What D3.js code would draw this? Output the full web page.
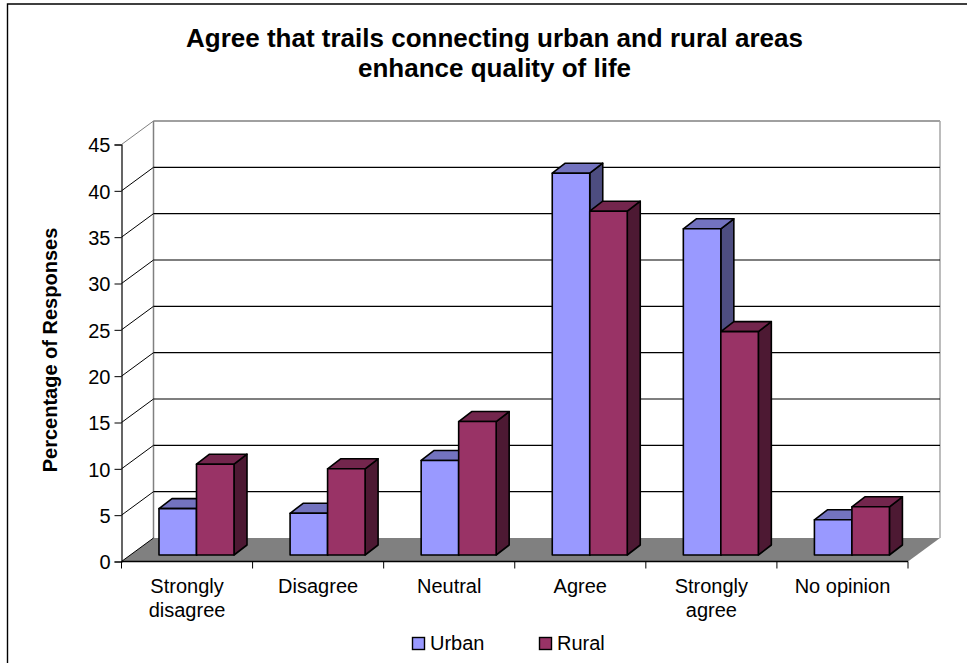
<!DOCTYPE html>
<html><head><meta charset="utf-8">
<script src="https://cdnjs.cloudflare.com/ajax/libs/d3/7.8.5/d3.min.js"></script>
<style>html,body{margin:0;padding:0;background:#fff}svg{display:block}text{font-family:"Liberation Sans",Arial,sans-serif;fill:#000}</style>
</head><body><svg id="c" width="967" height="663"></svg>
<script>
const categories=[["Strongly","disagree"],["Disagree"],["Neutral"],["Agree"],["Strongly","agree"],["No opinion"]];
const urban=[5,4.5,10.2,41.2,35.2,3.8];
const rural=[9.8,9.3,14.4,37.1,24.1,5.2];
const yTicks=[0,5,10,15,20,25,30,35,40,45];
const titleLines=["Agree that trails connecting urban and rural areas","enhance quality of life"];
const legendItems=["Urban","Rural"];
const svg=d3.select("#c");
const x0=121.5,x1=908,yB=561.5,yT=144.5,dx=32,dy=23.5;
const y=d3.scaleLinear().domain([0,45]).range([yB,yT]);
const x=d3.scaleBand().domain(d3.range(6)).range([x0,x1]);
const poly=(pts,fill,stroke,sw)=>svg.append("polygon").attr("points",pts.map(p=>p.join(",")).join(" ")).attr("fill",fill).attr("stroke",stroke||"none").attr("stroke-width",sw||0).attr("stroke-linejoin","round");
const line=(a,b,c,d,col,w)=>svg.append("line").attr("x1",a).attr("y1",b).attr("x2",c).attr("y2",d).attr("stroke",col).attr("stroke-width",w||1);
// frame
svg.append("path").attr("d","M7.5,663V4H967").attr("fill","none").attr("stroke","#000").attr("stroke-width",1.4);
// walls
line(x0+dx,y(45)-dy,x1+dx,y(45)-dy,"#808080",1.5);
line(x1+dx,y(45)-dy,x1+dx,yB-dy,"#a6a6a6",1.5);
line(x0+dx,y(45)-dy,x0+dx,yB-dy,"#808080",1.5);
poly([[x0,yB],[x1,yB],[x1+dx,yB-dy],[x0+dx,yB-dy]],"#808080");
yTicks.slice(1,-1).forEach(t=>{line(x0+dx,y(t)-dy,x1+dx,y(t)-dy,"#000",1.2);});
yTicks.forEach(t=>{line(x0,y(t),x0+dx,y(t)-dy,t===45?"#808080":"#000",1);});
// axes
const gy=svg.append("g").attr("transform",`translate(${x0},0)`).call(d3.axisLeft(y).tickValues(yTicks).tickSize(7).tickPadding(4));
gy.selectAll("text").attr("font-size",20).attr("font-family",'"Liberation Sans",Arial,sans-serif').attr("dy","0.36em");
const gx=svg.append("g").attr("transform",`translate(0,${yB})`);
gx.append("line").attr("x1",x0).attr("x2",x1).attr("stroke","#000").attr("stroke-width",1.5);
d3.range(7).forEach(i=>{const px=x0+i*x.bandwidth();gx.append("line").attr("x1",px).attr("x2",px).attr("y1",0).attr("y2",7).attr("stroke","#000");});
svg.selectAll(".domain").attr("stroke","#000").attr("stroke-width",1.2);
categories.forEach((c,i)=>{const t=svg.append("text").attr("x",x(i)+x.bandwidth()/2).attr("text-anchor","middle").attr("font-size",20);
 c.forEach((l,j)=>t.append("tspan").attr("x",x(i)+x.bandwidth()/2).attr("y",593+j*24).text(l));});
// bars
const bw=37.5,bdx=13,bdy=10;
const bar=(v,l,f,top,side)=>{const r=l+bw,b=y(0)-6.5,t=b-(y(0)-y(v));
 poly([[r,t],[r+bdx,t-bdy],[r+bdx,b-bdy],[r,b]],side,"#000",1.6);
 poly([[l,t],[l+bdx,t-bdy],[r+bdx,t-bdy],[r,t]],top,"#000",1.6);
 poly([[l,t],[r,t],[r,b],[l,b]],f,"#000",1.6);};
categories.forEach((c,i)=>{const l=x(i)+37.5;
 bar(urban[i],l,"#9999ff","#7373bf","#4d4d80");
 bar(rural[i],l+bw,"#993366","#73264d","#4d1933");});
// title
const tt=svg.append("text").attr("text-anchor","middle").attr("font-size",26).attr("font-weight","bold");
titleLines.forEach((l,j)=>tt.append("tspan").attr("x",494.5).attr("y",47+j*30).text(l));
svg.append("text").attr("transform","translate(57,350) rotate(-90)").attr("text-anchor","middle").attr("font-size",20).attr("font-weight","bold").text("Percentage of Responses");
// legend
[["#9999ff",412.5],["#993366",539.5]].forEach((d,i)=>{
 svg.append("rect").attr("x",d[0]==="#9999ff"?412.5:539.5).attr("y",637.5).attr("width",12).attr("height",12).attr("fill",d[0]).attr("stroke","#000").attr("stroke-width",1.4);
 svg.append("text").attr("x",d[1]+17.5).attr("y",650).attr("font-size",20).text(legendItems[i]);});
</script></body></html>
